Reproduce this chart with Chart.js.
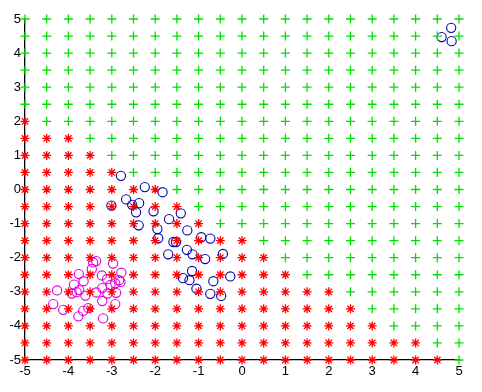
<!DOCTYPE html>
<html>
<head>
<meta charset="utf-8">
<script src="https://cdn.jsdelivr.net/npm/chart.js@4"></script>
<style>
  body { margin: 0; background: #fff; }
  canvas { display: block; }
</style>
</head>
<body>
<canvas id="grafico" width="482" height="392"></canvas>
<script>
// grid of test points (x columns, y rows) and the class shown at each one
const gridX = [-5, -4.5, -4, -3.5, -3, -2.5, -2, -1.5, -1, -0.5, 0, 0.5, 1, 1.5, 2, 2.5, 3, 3.5, 4, 4.5, 5];
const gridY = [5, 4.5, 4, 3.5, 3, 2.5, 2, 1.5, 1, 0.5, 0, -0.5, -1, -1.5, -2, -2.5, -3, -3.5, -4, -4.5, -5];
// r = red star, g = green plus (one string per row, top row first)
const gridClass = [
  "ggggggggggggggggggggg",
  "ggggggggggggggggggggg",
  "ggggggggggggggggggggg",
  "ggggggggggggggggggggg",
  "ggggggggggggggggggggg",
  "ggggggggggggggggggggg",
  "rgggggggggggggggggggg",
  "rrrgggggggggggggggggg",
  "rrrrggggggggggggggggg",
  "rrrrrgggggggggggggggg",
  "rrrrrrrgggggggggggggg",
  "rrrrrrrrggggggggggggg",
  "rrrrrrrrrgggggggggggg",
  "rrrrrrrrrrrgggggggggg",
  "rrrrrrrrrrrrggggggggg",
  "rrrrrrrrrrrrrgggggggg",
  "rrrrrrrrrrrrrrrgggggg",
  "rrrrrrrrrrrrrrrrggggg",
  "rrrrrrrrrrrrrrrrrgggg",
  "rrrrrrrrrrrrrrrrrrrgg",
  "rrrrrrrrrrrrrrrrrrrrg"
];

// blue samples
const azulX = [4.82, 4.60, 4.83, -2.79, -2.24, -1.83, -2.67, -2.53, -2.37, -3.01, -2.44, -2.04, -1.41,
  -2.38, -1.68, -1.95, -1.26, -1.93, -1.58, -1.52, -0.94, -0.73, -1.27, -1.14, -0.85, -0.44, -1.70,
  -1.15, -1.36, -1.21, -0.66, -0.27, -1.05, -0.73, -0.48];
const azulY = [4.74, 4.47, 4.35, 0.40, 0.07, -0.08, -0.29, -0.45, -0.40, -0.47, -0.67, -0.64, -0.70,
  -1.05, -0.87, -1.16, -1.20, -1.43, -1.54, -1.54, -1.40, -1.44, -1.77, -1.90, -2.04, -1.89, -1.90,
  -2.39, -2.60, -2.66, -2.69, -2.55, -2.91, -3.06, -3.12];

// magenta samples
const magentaX = [-3.43, -3.36, -2.97, -3.46, -3.76, -3.65, -3.23, -3.11, -2.78, -2.80, -2.83, -2.92,
  -3.03, -4.26, -3.87, -3.75, -3.92, -3.81, -3.61, -3.36, -3.22, -3.10, -2.90, -3.22, -2.92, -3.54,
  -3.66, -3.77, -4.12, -4.35, -3.20];
const magentaY = [-2.14, -2.10, -2.17, -2.33, -2.48, -2.69, -2.52, -2.63, -2.44, -2.71, -2.66, -2.75,
  -2.80, -2.96, -2.79, -2.95, -3.05, -3.01, -3.11, -3.02, -2.89, -3.05, -3.03, -3.27, -3.36, -3.48,
  -3.56, -3.72, -3.53, -3.36, -3.78];

const ticksEje = [-5, -4, -3, -2, -1, 0, 1, 2, 3, 4, 5];

const puntosRojos = [];
const puntosVerdes = [];
gridY.forEach((y, fila) => {
  gridX.forEach((x, col) => {
    if (gridClass[fila][col] === "r") puntosRojos.push({ x, y });
    else puntosVerdes.push({ x, y });
  });
});

const puntosAzules = azulX.map((x, i) => ({ x, y: azulY[i] }));
const puntosMagenta = magentaX.map((x, i) => ({ x, y: magentaY[i] }));

const fuente = { family: "Liberation Sans, Arial, sans-serif", size: 13 };

new Chart(document.getElementById("grafico"), {
  type: "scatter",
  data: {
    datasets: [
      { data: puntosVerdes, pointStyle: "cross", radius: 4.5, borderColor: "#00e000", borderWidth: 1.3, clip: false },
      { data: puntosRojos, pointStyle: "star", radius: 4.5, borderColor: "#ff0000", borderWidth: 1.3, clip: false },
      { data: puntosAzules, pointStyle: "circle", radius: 4.6, borderColor: "#0000aa", backgroundColor: "rgba(0,0,0,0)", borderWidth: 1.1, clip: false },
      { data: puntosMagenta, pointStyle: "circle", radius: 4.6, borderColor: "#dd00dd", backgroundColor: "rgba(0,0,0,0)", borderWidth: 1.1, clip: false }
    ]
  },
  options: {
    responsive: false,
    animation: false,
    events: [],
    layout: { padding: { top: 19, right: 23, left: 0, bottom: 0 } },
    plugins: { legend: { display: false }, tooltip: { enabled: false } },
    scales: {
      x: {
        type: "linear",
        min: -5, max: 5,
        afterBuildTicks: s => { s.ticks = ticksEje.map(v => ({ value: v })); },
        afterFit: s => { s.height = 32; },
        grid: { display: false, drawTicks: false },
        border: { display: true, color: "#000", width: 1.3 },
        ticks: { color: "#000", font: fuente, padding: 4, maxRotation: 0 }
      },
      y: {
        type: "linear",
        min: -5, max: 5,
        afterBuildTicks: s => { s.ticks = ticksEje.map(v => ({ value: v })); },
        afterFit: s => { s.width = 25; },
        grid: { display: false, drawTicks: false },
        border: { display: true, color: "#000", width: 1.3 },
        ticks: { color: "#000", font: fuente, padding: 4 }
      }
    }
  }
});
</script>
</body>
</html>
